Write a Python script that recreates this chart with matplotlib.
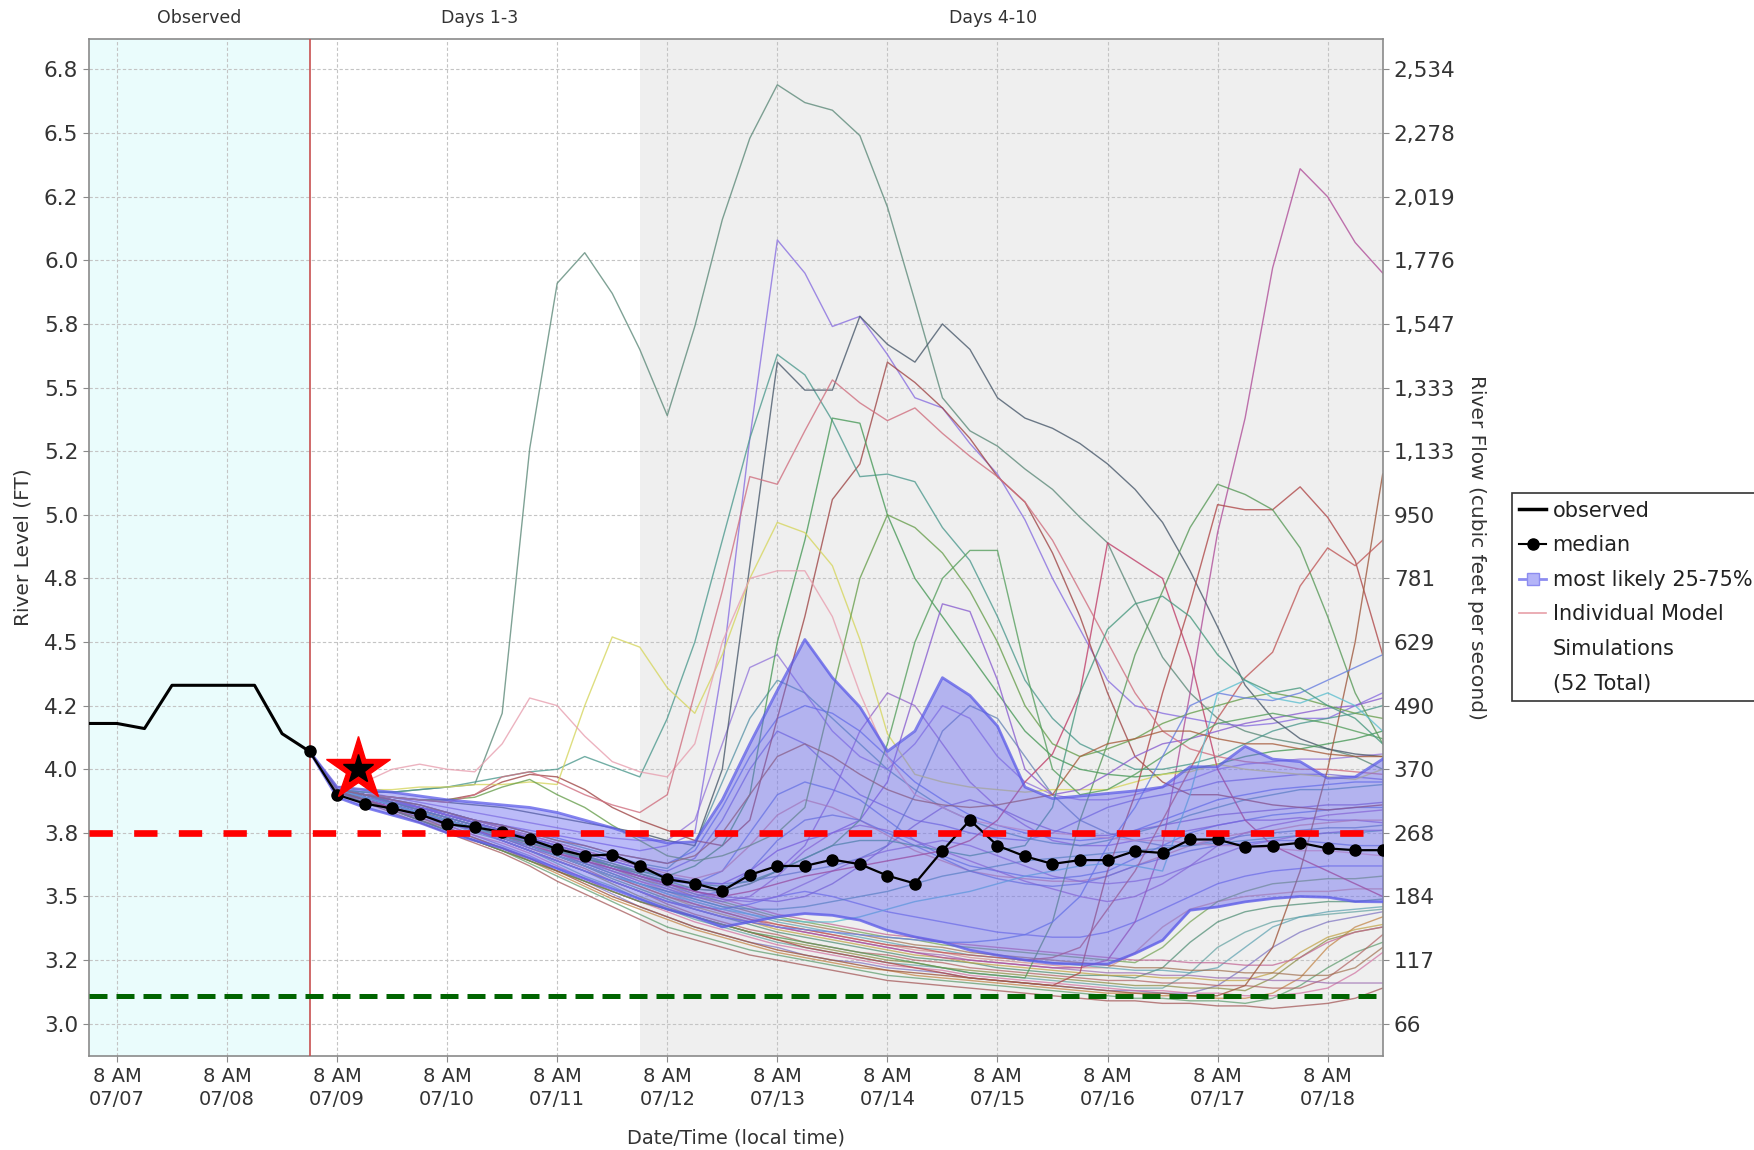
import matplotlib
matplotlib.use('Agg')
import matplotlib.pyplot as plt
from matplotlib.lines import Line2D

# hours counted from 07/07 00:00 local time
X_MIN, X_MAX = 2, 284
Y_MIN, Y_MAX = 2.873, 6.869
OBS_END = 50        # 07/09 2 AM
DAY3_END = 122      # 07/12 2 AM
FLOOD_LEVEL = 3.75
LOW_LEVEL = 3.11
STAR_TIME, STAR_LEVEL = 60.5, 4.0

obs_hours = [2, 8, 14, 20, 26, 32, 38, 44, 50]
obs_level = [4.18, 4.18, 4.16, 4.33, 4.33, 4.33, 4.33, 4.14, 4.07]

fc_hours = list(range(50, 285, 6))

median = [4.07, 3.90, 3.865, 3.846, 3.823, 3.784, 3.772, 3.754, 3.724, 3.687,
          3.66, 3.665, 3.621, 3.568, 3.551, 3.522, 3.585, 3.62, 3.62, 3.645,
          3.627, 3.582, 3.551, 3.68, 3.80, 3.70, 3.658, 3.628, 3.643, 3.643,
          3.679, 3.671, 3.724, 3.724, 3.695, 3.70, 3.711, 3.689, 3.682, 3.682]

band_hi = [4.07, 3.93, 3.92, 3.91, 3.895, 3.88, 3.87, 3.86, 3.85, 3.83,
           3.80, 3.77, 3.735, 3.71, 3.715, 3.88, 4.10, 4.31, 4.51, 4.36,
           4.245, 4.07, 4.15, 4.36, 4.29, 4.17, 3.93, 3.885, 3.895, 3.905,
           3.915, 3.93, 4.01, 4.01, 4.09, 4.04, 4.03, 3.965, 3.97, 4.04]

band_lo = [4.07, 3.89, 3.85, 3.82, 3.79, 3.75, 3.72, 3.69, 3.65, 3.61,
           3.57, 3.53, 3.49, 3.45, 3.42, 3.38, 3.40, 3.42, 3.433, 3.426,
           3.407, 3.367, 3.341, 3.321, 3.289, 3.269, 3.25, 3.237, 3.234, 3.234,
           3.276, 3.328, 3.446, 3.459, 3.479, 3.492, 3.50, 3.497, 3.48, 3.479]

# ensemble members that leave the band
sim_wild = [
    [4.07, 3.92, 3.91, 3.91, 3.92, 3.93, 3.94, 4.22, 5.26, 5.91,
     6.03, 5.87, 5.65, 5.39, 5.74, 6.16, 6.48, 6.69, 6.62, 6.59,
     6.49, 6.21, 5.84, 5.46, 5.33, 5.27, 5.18, 5.10, 4.99, 4.89,
     4.66, 4.44, 4.30, 4.20, 4.15, 4.12, 4.10, 4.08, 4.05, 4.00],
    [4.07, 3.92, 3.89, 3.87, 3.85, 3.82, 3.80, 3.78, 3.76, 3.74,
     3.72, 3.70, 3.68, 3.70, 3.75, 4.40, 5.30, 6.08, 5.95, 5.74,
     5.78, 5.63, 5.46, 5.42, 5.28, 5.16, 4.98, 4.75, 4.55, 4.35,
     4.25, 4.22, 4.20, 4.18, 4.17, 4.18, 4.20, 4.20, 4.25, 4.30],
    [4.07, 3.92, 3.88, 3.85, 3.82, 3.79, 3.76, 3.72, 3.68, 3.64,
     3.60, 3.56, 3.52, 3.48, 3.45, 3.42, 3.40, 3.38, 3.36, 3.34,
     3.32, 3.30, 3.28, 3.26, 3.25, 3.24, 3.23, 3.22, 3.22, 3.25,
     3.40, 3.70, 4.30, 4.93, 5.38, 5.97, 6.36, 6.25, 6.07, 5.95],
    [4.07, 3.92, 3.90, 3.89, 3.88, 3.88, 3.90, 3.95, 3.98, 3.97,
     3.92, 3.85, 3.80, 3.76, 3.72, 3.70, 3.80, 4.20, 4.60, 5.06,
     5.20, 5.60, 5.52, 5.42, 5.30, 5.15, 5.05, 4.85, 4.60, 4.30,
     4.05, 3.95, 3.90, 3.90, 3.88, 3.86, 3.85, 3.84, 3.85, 3.86],
    [4.07, 3.92, 3.91, 3.91, 3.92, 3.93, 3.95, 3.97, 3.99, 4.00,
     4.05, 4.01, 3.97, 4.20, 4.50, 4.90, 5.30, 5.63, 5.55, 5.37,
     5.15, 5.16, 5.13, 4.95, 4.82, 4.60, 4.35, 4.20, 4.10, 4.05,
     4.00, 4.00, 4.02, 4.05, 4.10, 4.15, 4.18, 4.20, 4.22, 4.25],
    [4.07, 3.92, 3.90, 3.89, 3.88, 3.87, 3.86, 3.85, 3.83, 3.81,
     3.79, 3.77, 3.75, 3.72, 3.70, 4.00, 4.80, 5.60, 5.49, 5.49,
     5.78, 5.67, 5.60, 5.75, 5.65, 5.46, 5.38, 5.34, 5.28, 5.20,
     5.10, 4.97, 4.78, 4.56, 4.33, 4.20, 4.12, 4.08, 4.06, 4.05],
    [4.07, 3.92, 3.89, 3.86, 3.83, 3.80, 3.77, 3.74, 3.71, 3.68,
     3.65, 3.62, 3.60, 3.58, 3.62, 3.70, 3.90, 4.50, 4.90, 5.38,
     5.36, 5.00, 4.75, 4.60, 4.45, 4.30, 4.15, 4.05, 4.00, 3.98,
     3.97, 3.98, 4.00, 4.02, 4.05, 4.07, 4.08, 4.10, 4.12, 4.15],
    [4.07, 3.93, 3.92, 3.92, 3.93, 3.93, 3.94, 3.94, 3.95, 3.94,
     4.25, 4.52, 4.48, 4.32, 4.22, 4.45, 4.75, 4.97, 4.93, 4.80,
     4.51, 4.14, 3.98, 3.95, 3.93, 3.92, 3.91, 3.92, 3.92, 3.92,
     3.95, 3.98, 3.99, 4.02, 4.00, 3.99, 3.98, 3.97, 3.96, 4.00],
    [4.07, 3.93, 3.95, 4.00, 4.02, 4.00, 3.99, 4.10, 4.28, 4.25,
     4.13, 4.03, 3.99, 3.97, 4.10, 4.50, 4.75, 4.78, 4.78, 4.60,
     4.30, 4.05, 3.90, 3.85, 3.80, 3.78, 3.76, 3.75, 3.74, 3.73,
     3.72, 3.72, 3.71, 3.70, 3.70, 3.69, 3.68, 3.68, 3.67, 3.66],
    [4.07, 3.92, 3.88, 3.85, 3.82, 3.79, 3.76, 3.73, 3.70, 3.67,
     3.64, 3.61, 3.58, 3.55, 3.52, 3.50, 3.52, 3.55, 3.58, 3.60,
     3.62, 3.64, 3.66, 3.68, 3.72, 3.80, 3.95, 4.06, 4.30, 4.89,
     4.82, 4.75, 4.44, 4.00, 3.80, 3.70, 3.65, 3.60, 3.55, 3.50],
    [4.07, 3.92, 3.88, 3.84, 3.80, 3.76, 3.72, 3.68, 3.64, 3.60,
     3.56, 3.52, 3.48, 3.45, 3.42, 3.39, 3.36, 3.33, 3.30, 3.28,
     3.26, 3.24, 3.22, 3.20, 3.18, 3.17, 3.16, 3.15, 3.20, 3.60,
     3.90, 4.30, 4.65, 5.04, 5.02, 5.02, 5.11, 4.99, 4.82, 4.45],
    [4.07, 3.92, 3.88, 3.84, 3.80, 3.76, 3.72, 3.68, 3.64, 3.60,
     3.56, 3.52, 3.48, 3.45, 3.42, 3.39, 3.36, 3.34, 3.32, 3.30,
     3.28, 3.26, 3.24, 3.22, 3.20, 3.19, 3.18, 3.40, 3.80, 4.10,
     4.45, 4.70, 4.95, 5.12, 5.08, 5.02, 4.87, 4.60, 4.30, 4.10],
    [4.07, 3.91, 3.88, 3.84, 3.81, 3.77, 3.73, 3.69, 3.65, 3.60,
     3.55, 3.50, 3.46, 3.42, 3.38, 3.35, 3.32, 3.29, 3.27, 3.25,
     3.23, 3.21, 3.20, 3.19, 3.18, 3.17, 3.16, 3.15, 3.14, 3.13,
     3.12, 3.12, 3.11, 3.11, 3.15, 3.30, 3.60, 4.00, 4.50, 5.16],
    [4.07, 3.92, 3.89, 3.86, 3.83, 3.80, 3.77, 3.73, 3.70, 3.66,
     3.62, 3.58, 3.54, 3.50, 3.47, 3.44, 3.41, 3.39, 3.37, 3.35,
     3.33, 3.31, 3.30, 3.28, 3.27, 3.26, 3.25, 3.26, 3.30, 3.45,
     3.60, 3.80, 4.00, 4.20, 4.36, 4.46, 4.72, 4.87, 4.80, 4.90],
    [4.07, 3.92, 3.90, 3.87, 3.85, 3.82, 3.79, 3.76, 3.73, 3.70,
     3.67, 3.64, 3.61, 3.58, 3.55, 3.55, 3.60, 3.68, 3.72, 3.75,
     3.80, 3.95, 4.30, 4.65, 4.62, 4.35, 4.00, 3.90, 3.92, 3.98,
     4.05, 4.10, 4.12, 4.15, 4.18, 4.20, 4.22, 4.24, 4.25, 4.28],
    [4.07, 3.92, 3.90, 3.89, 3.88, 3.88, 3.89, 3.93, 3.96, 3.90,
     3.85, 3.78, 3.72, 3.66, 3.64, 3.66, 3.70, 3.75, 3.85, 4.30,
     4.75, 5.00, 4.95, 4.85, 4.70, 4.50, 4.25, 4.10, 4.05, 4.08,
     4.12, 4.18, 4.22, 4.25, 4.28, 4.30, 4.28, 4.25, 4.22, 4.20],
    [4.07, 3.92, 3.90, 3.89, 3.88, 3.87, 3.90, 3.97, 3.99, 3.95,
     3.90, 3.86, 3.83, 3.90, 4.30, 4.70, 5.15, 5.12, 5.33, 5.53,
     5.44, 5.37, 5.42, 5.32, 5.23, 5.15, 5.05, 4.90, 4.70, 4.50,
     4.30, 4.15, 4.08, 4.05, 4.03, 4.02, 4.00, 4.00, 3.99, 3.98],
    [4.07, 3.92, 3.89, 3.86, 3.83, 3.80, 3.77, 3.74, 3.71, 3.68,
     3.65, 3.62, 3.59, 3.56, 3.53, 3.52, 3.55, 3.60, 3.65, 3.70,
     3.80, 4.10, 4.50, 4.75, 4.86, 4.86, 4.40, 4.00, 3.90, 3.92,
     3.98, 4.05, 4.12, 4.18, 4.20, 4.22, 4.20, 4.18, 4.15, 4.12],
    [4.07, 3.92, 3.89, 3.86, 3.83, 3.79, 3.76, 3.72, 3.68, 3.64,
     3.60, 3.56, 3.52, 3.48, 3.45, 3.42, 3.40, 3.38, 3.37, 3.36,
     3.35, 3.34, 3.33, 3.32, 3.32, 3.33, 3.35, 3.40, 3.50, 3.70,
     3.85, 4.05, 4.25, 4.30, 4.28, 4.27, 4.30, 4.35, 4.40, 4.45],
    [4.07, 3.92, 3.89, 3.86, 3.83, 3.80, 3.77, 3.73, 3.70, 3.66,
     3.62, 3.58, 3.55, 3.51, 3.48, 3.45, 3.43, 3.41, 3.40, 3.40,
     3.42, 3.45, 3.48, 3.50, 3.52, 3.55, 3.58, 3.60, 3.62, 3.63,
     3.62, 3.60, 3.90, 4.30, 4.35, 4.28, 4.26, 4.30, 4.25, 4.15],
    [4.07, 3.92, 3.90, 3.87, 3.84, 3.81, 3.78, 3.75, 3.72, 3.69,
     3.66, 3.63, 3.60, 3.57, 3.55, 3.54, 3.56, 3.60, 3.65, 3.70,
     3.72, 3.72, 3.70, 3.68, 3.66, 3.68, 3.70, 3.85, 4.30, 4.55,
     4.65, 4.68, 4.60, 4.45, 4.35, 4.30, 4.32, 4.25, 4.20, 4.10],
    [4.07, 3.92, 3.90, 3.88, 3.86, 3.83, 3.80, 3.78, 3.75, 3.72,
     3.70, 3.67, 3.65, 3.63, 3.66, 3.75, 3.90, 4.05, 4.10, 4.05,
     3.98, 3.92, 3.88, 3.86, 3.85, 3.86, 3.88, 3.90, 4.05, 4.10,
     4.12, 4.15, 4.15, 4.12, 4.10, 4.10, 4.08, 4.06, 4.05, 4.05],
]
wild_colors = ['#5f8b7b', '#8a70e0', '#b0509a', '#a04848', '#4f9a8f', '#4a5a6c',
               '#4a9a5a', '#d6d660', '#e8a0b0', '#c0406a', '#b04a4a', '#5a9a5a',
               '#a05a40', '#c05a5a', '#8a60d0', '#6aa050', '#d07080', '#58a060',
               '#6a80e0', '#60c0d0', '#4a9a80', '#a86040']

# members that stay inside the 25-75% band
sim_band = [
    [4.07, 3.92, 3.90, 3.88, 3.86, 3.83, 3.80, 3.77, 3.74, 3.71,
     3.68, 3.65, 3.62, 3.60, 3.65, 3.80, 4.00, 4.15, 4.10, 4.00,
     3.90, 3.85, 3.80, 3.78, 3.75, 3.73, 3.72, 3.75, 3.80, 3.85,
     3.88, 3.90, 3.92, 3.95, 3.96, 3.97, 3.98, 3.98, 3.97, 3.96],
    [4.07, 3.92, 3.90, 3.87, 3.85, 3.82, 3.79, 3.76, 3.72, 3.69,
     3.66, 3.62, 3.59, 3.56, 3.55, 3.60, 3.75, 3.90, 3.95, 3.92,
     3.88, 3.80, 3.72, 3.66, 3.62, 3.60, 3.58, 3.57, 3.58, 3.60,
     3.65, 3.70, 3.75, 3.78, 3.80, 3.82, 3.83, 3.84, 3.85, 3.85],
    [4.07, 3.92, 3.89, 3.87, 3.84, 3.81, 3.78, 3.75, 3.71, 3.68,
     3.64, 3.61, 3.58, 3.55, 3.53, 3.52, 3.55, 3.60, 3.70, 3.90,
     4.15, 4.30, 4.25, 4.10, 3.95, 3.85, 3.78, 3.72, 3.70, 3.70,
     3.72, 3.74, 3.76, 3.78, 3.80, 3.80, 3.81, 3.80, 3.80, 3.79],
    [4.07, 3.92, 3.90, 3.88, 3.86, 3.83, 3.80, 3.78, 3.75, 3.72,
     3.69, 3.66, 3.63, 3.61, 3.70, 3.95, 4.20, 4.35, 4.30, 4.20,
     4.10, 4.00, 3.92, 3.85, 3.80, 3.76, 3.73, 3.71, 3.70, 3.72,
     3.75, 3.78, 3.82, 3.85, 3.88, 3.90, 3.92, 3.92, 3.93, 3.94],
    [4.07, 3.91, 3.88, 3.85, 3.82, 3.79, 3.76, 3.72, 3.68, 3.64,
     3.60, 3.56, 3.52, 3.48, 3.46, 3.45, 3.47, 3.50, 3.52, 3.50,
     3.47, 3.44, 3.42, 3.40, 3.38, 3.36, 3.35, 3.34, 3.34, 3.36,
     3.40, 3.45, 3.50, 3.55, 3.58, 3.60, 3.61, 3.62, 3.62, 3.62],
    [4.07, 3.92, 3.89, 3.86, 3.83, 3.80, 3.77, 3.74, 3.70, 3.67,
     3.63, 3.60, 3.56, 3.53, 3.50, 3.48, 3.50, 3.58, 3.68, 3.75,
     3.78, 3.76, 3.72, 3.68, 3.64, 3.60, 3.56, 3.53, 3.50, 3.48,
     3.50, 3.55, 3.62, 3.70, 3.75, 3.78, 3.80, 3.82, 3.83, 3.84],
    [4.07, 3.92, 3.90, 3.87, 3.85, 3.82, 3.79, 3.76, 3.73, 3.70,
     3.67, 3.64, 3.61, 3.58, 3.56, 3.55, 3.56, 3.58, 3.60, 3.62,
     3.65, 3.70, 3.90, 4.15, 4.25, 4.20, 4.05, 3.90, 3.80, 3.75,
     3.72, 3.70, 3.70, 3.72, 3.74, 3.75, 3.76, 3.77, 3.77, 3.78],
    [4.07, 3.92, 3.90, 3.88, 3.85, 3.82, 3.80, 3.77, 3.74, 3.71,
     3.68, 3.65, 3.62, 3.59, 3.57, 3.60, 3.70, 3.82, 3.88, 3.85,
     3.80, 3.74, 3.68, 3.64, 3.60, 3.58, 3.57, 3.56, 3.56, 3.58,
     3.62, 3.66, 3.70, 3.73, 3.75, 3.76, 3.78, 3.79, 3.80, 3.80],
    [4.07, 3.91, 3.88, 3.86, 3.83, 3.80, 3.76, 3.73, 3.69, 3.66,
     3.62, 3.58, 3.55, 3.52, 3.50, 3.52, 3.60, 3.72, 3.80, 3.82,
     3.80, 3.75, 3.70, 3.65, 3.60, 3.57, 3.55, 3.54, 3.55, 3.58,
     3.62, 3.65, 3.68, 3.70, 3.71, 3.72, 3.72, 3.71, 3.70, 3.70],
    [4.07, 3.92, 3.91, 3.89, 3.87, 3.85, 3.83, 3.81, 3.79, 3.77,
     3.75, 3.73, 3.72, 3.72, 3.80, 4.10, 4.40, 4.45, 4.30, 4.15,
     4.05, 4.00, 4.10, 4.25, 4.20, 4.05, 3.95, 3.90, 3.88, 3.88,
     3.90, 3.93, 3.96, 4.00, 4.02, 4.03, 4.04, 4.04, 4.05, 4.06],
    [4.07, 3.92, 3.90, 3.87, 3.84, 3.81, 3.78, 3.75, 3.72, 3.68,
     3.65, 3.62, 3.58, 3.55, 3.52, 3.50, 3.49, 3.48, 3.50, 3.55,
     3.62, 3.70, 3.78, 3.85, 3.88, 3.85, 3.80, 3.76, 3.74, 3.74,
     3.76, 3.78, 3.80, 3.82, 3.83, 3.84, 3.85, 3.86, 3.86, 3.87],
    [4.07, 3.92, 3.89, 3.86, 3.83, 3.80, 3.77, 3.73, 3.70, 3.66,
     3.63, 3.59, 3.55, 3.52, 3.49, 3.46, 3.45, 3.45, 3.46, 3.48,
     3.50, 3.52, 3.55, 3.58, 3.60, 3.62, 3.64, 3.65, 3.66, 3.67,
     3.68, 3.69, 3.70, 3.71, 3.72, 3.73, 3.74, 3.75, 3.75, 3.76],
    [4.07, 3.92, 3.90, 3.88, 3.85, 3.83, 3.80, 3.78, 3.75, 3.73,
     3.70, 3.67, 3.65, 3.63, 3.68, 3.85, 4.05, 4.20, 4.25, 4.22,
     4.15, 4.05, 3.95, 3.88, 3.82, 3.78, 3.75, 3.73, 3.72, 3.73,
     3.76, 3.80, 3.84, 3.88, 3.90, 3.92, 3.93, 3.94, 3.95, 3.95],
    [4.07, 3.92, 3.89, 3.86, 3.84, 3.81, 3.78, 3.75, 3.71, 3.68,
     3.64, 3.61, 3.58, 3.54, 3.51, 3.49, 3.48, 3.50, 3.55, 3.60,
     3.65, 3.68, 3.70, 3.72, 3.70, 3.66, 3.62, 3.58, 3.56, 3.55,
     3.56, 3.58, 3.62, 3.66, 3.70, 3.72, 3.74, 3.75, 3.76, 3.76],
]
band_colors = ['#7060d0', '#5a70d8', '#8a5ac8', '#4a8aa0', '#6a6ae0', '#9a60c0', '#5a7ab0',
               '#d08090', '#6070d0', '#8a6ad8', '#7a58c0', '#4a90a0', '#5a6ae0', '#9068c8']

# members that recede below the band
sim_low = [
    [4.07, 3.91, 3.87, 3.83, 3.79, 3.75, 3.71, 3.67, 3.62, 3.56,
     3.51, 3.46, 3.41, 3.36, 3.33, 3.30, 3.27, 3.25, 3.23, 3.21,
     3.19, 3.17, 3.16, 3.15, 3.14, 3.13, 3.12, 3.11, 3.10, 3.09,
     3.09, 3.08, 3.08, 3.07, 3.07, 3.06, 3.07, 3.08, 3.10, 3.14],
    [4.07, 3.91, 3.87, 3.84, 3.80, 3.76, 3.72, 3.68, 3.63, 3.58,
     3.53, 3.48, 3.43, 3.38, 3.35, 3.32, 3.29, 3.27, 3.25, 3.23,
     3.21, 3.19, 3.18, 3.17, 3.16, 3.15, 3.14, 3.13, 3.12, 3.11,
     3.10, 3.10, 3.09, 3.09, 3.08, 3.10, 3.15, 3.22, 3.28, 3.32],
    [4.07, 3.91, 3.88, 3.84, 3.80, 3.77, 3.73, 3.69, 3.64, 3.59,
     3.54, 3.49, 3.45, 3.41, 3.37, 3.34, 3.31, 3.28, 3.26, 3.24,
     3.22, 3.21, 3.19, 3.18, 3.17, 3.16, 3.15, 3.14, 3.13, 3.12,
     3.12, 3.11, 3.11, 3.10, 3.10, 3.12, 3.18, 3.30, 3.38, 3.42],
    [4.07, 3.91, 3.88, 3.85, 3.81, 3.78, 3.74, 3.70, 3.66, 3.61,
     3.56, 3.51, 3.46, 3.42, 3.38, 3.35, 3.32, 3.30, 3.27, 3.25,
     3.24, 3.22, 3.21, 3.20, 3.18, 3.17, 3.16, 3.15, 3.14, 3.13,
     3.13, 3.12, 3.12, 3.15, 3.22, 3.30, 3.36, 3.40, 3.42, 3.44],
    [4.07, 3.92, 3.88, 3.85, 3.82, 3.78, 3.74, 3.71, 3.67, 3.62,
     3.57, 3.52, 3.48, 3.44, 3.40, 3.37, 3.34, 3.31, 3.29, 3.27,
     3.25, 3.23, 3.22, 3.21, 3.19, 3.18, 3.17, 3.16, 3.15, 3.14,
     3.13, 3.13, 3.12, 3.12, 3.11, 3.11, 3.12, 3.14, 3.20, 3.28],
    [4.07, 3.92, 3.89, 3.86, 3.82, 3.79, 3.75, 3.72, 3.68, 3.63,
     3.58, 3.54, 3.49, 3.45, 3.41, 3.38, 3.35, 3.32, 3.30, 3.28,
     3.26, 3.24, 3.23, 3.22, 3.20, 3.19, 3.18, 3.17, 3.16, 3.15,
     3.14, 3.14, 3.20, 3.30, 3.36, 3.40, 3.42, 3.43, 3.44, 3.45],
    [4.07, 3.92, 3.89, 3.86, 3.83, 3.79, 3.76, 3.72, 3.68, 3.64,
     3.60, 3.55, 3.50, 3.46, 3.42, 3.39, 3.36, 3.33, 3.31, 3.29,
     3.27, 3.25, 3.24, 3.22, 3.21, 3.20, 3.19, 3.18, 3.17, 3.16,
     3.15, 3.15, 3.14, 3.14, 3.13, 3.18, 3.26, 3.33, 3.36, 3.38],
    [4.07, 3.92, 3.89, 3.86, 3.83, 3.80, 3.76, 3.73, 3.69, 3.65,
     3.61, 3.56, 3.52, 3.47, 3.43, 3.40, 3.37, 3.35, 3.32, 3.30,
     3.28, 3.27, 3.25, 3.24, 3.22, 3.21, 3.20, 3.19, 3.18, 3.17,
     3.17, 3.16, 3.16, 3.15, 3.15, 3.14, 3.14, 3.18, 3.26, 3.35],
    [4.07, 3.92, 3.89, 3.86, 3.83, 3.80, 3.77, 3.73, 3.70, 3.66,
     3.62, 3.57, 3.53, 3.49, 3.45, 3.42, 3.39, 3.36, 3.34, 3.32,
     3.30, 3.28, 3.26, 3.25, 3.24, 3.22, 3.21, 3.20, 3.19, 3.19,
     3.18, 3.22, 3.32, 3.40, 3.44, 3.46, 3.47, 3.48, 3.48, 3.49],
    [4.07, 3.92, 3.89, 3.87, 3.84, 3.80, 3.77, 3.74, 3.70, 3.66,
     3.62, 3.58, 3.54, 3.50, 3.46, 3.43, 3.40, 3.37, 3.35, 3.33,
     3.31, 3.29, 3.27, 3.26, 3.24, 3.23, 3.22, 3.21, 3.20, 3.19,
     3.19, 3.18, 3.18, 3.17, 3.17, 3.20, 3.28, 3.34, 3.37, 3.39],
    [4.07, 3.92, 3.89, 3.87, 3.84, 3.81, 3.78, 3.74, 3.71, 3.67,
     3.63, 3.59, 3.55, 3.51, 3.47, 3.44, 3.41, 3.38, 3.36, 3.34,
     3.32, 3.30, 3.28, 3.27, 3.25, 3.24, 3.23, 3.22, 3.21, 3.20,
     3.20, 3.19, 3.19, 3.18, 3.18, 3.17, 3.17, 3.16, 3.16, 3.16],
    [4.07, 3.92, 3.90, 3.87, 3.84, 3.81, 3.78, 3.75, 3.71, 3.67,
     3.64, 3.60, 3.56, 3.52, 3.48, 3.45, 3.42, 3.39, 3.37, 3.35,
     3.33, 3.31, 3.29, 3.28, 3.26, 3.25, 3.24, 3.23, 3.22, 3.22,
     3.28, 3.38, 3.45, 3.48, 3.50, 3.51, 3.52, 3.52, 3.53, 3.53],
    [4.07, 3.92, 3.90, 3.87, 3.85, 3.82, 3.79, 3.75, 3.72, 3.68,
     3.64, 3.60, 3.57, 3.53, 3.49, 3.46, 3.43, 3.40, 3.38, 3.36,
     3.34, 3.32, 3.30, 3.29, 3.27, 3.26, 3.25, 3.24, 3.23, 3.22,
     3.21, 3.21, 3.20, 3.22, 3.30, 3.38, 3.42, 3.44, 3.45, 3.46],
    [4.07, 3.92, 3.90, 3.88, 3.85, 3.82, 3.79, 3.76, 3.72, 3.69,
     3.65, 3.61, 3.57, 3.54, 3.50, 3.47, 3.44, 3.41, 3.39, 3.37,
     3.35, 3.33, 3.31, 3.30, 3.28, 3.27, 3.26, 3.25, 3.24, 3.23,
     3.22, 3.22, 3.21, 3.21, 3.20, 3.20, 3.19, 3.19, 3.22, 3.30],
    [4.07, 3.92, 3.90, 3.88, 3.85, 3.82, 3.79, 3.76, 3.73, 3.69,
     3.66, 3.62, 3.58, 3.55, 3.51, 3.48, 3.45, 3.42, 3.40, 3.38,
     3.36, 3.34, 3.33, 3.31, 3.30, 3.29, 3.28, 3.27, 3.26, 3.25,
     3.24, 3.30, 3.40, 3.48, 3.52, 3.55, 3.56, 3.57, 3.57, 3.58],
    [4.07, 3.92, 3.90, 3.88, 3.85, 3.83, 3.80, 3.77, 3.73, 3.70,
     3.66, 3.63, 3.59, 3.55, 3.52, 3.49, 3.46, 3.43, 3.41, 3.39,
     3.37, 3.35, 3.34, 3.32, 3.31, 3.30, 3.29, 3.28, 3.27, 3.26,
     3.25, 3.25, 3.24, 3.24, 3.23, 3.23, 3.26, 3.32, 3.36, 3.38],
]
low_colors = ['#a05050', '#5a9a6a', '#c08040', '#7a70c0', '#d070a0', '#60a0a0', '#8a8a40',
              '#b06060', '#4a8a70', '#c0a040', '#9a6ab0', '#d08a8a', '#5aa0b0', '#a07050',
              '#70a050', '#c06090']

y_ticks = [6.75, 6.5, 6.25, 6.0, 5.75, 5.5, 5.25, 5.0, 4.75, 4.5, 4.25, 4.0, 3.75, 3.5, 3.25, 3.0]
y_labels = ['6.8', '6.5', '6.2', '6.0', '5.8', '5.5', '5.2', '5.0',
            '4.8', '4.5', '4.2', '4.0', '3.8', '3.5', '3.2', '3.0']
flow_labels = ['2,534', '2,278', '2,019', '1,776', '1,547', '1,333', '1,133', '950',
               '781', '629', '490', '370', '268', '184', '117', '66']
x_ticks = [8, 32, 56, 80, 104, 128, 152, 176, 200, 224, 248, 272]
x_labels = ['8 AM\n07/07', '8 AM\n07/08', '8 AM\n07/09', '8 AM\n07/10', '8 AM\n07/11',
            '8 AM\n07/12', '8 AM\n07/13', '8 AM\n07/14', '8 AM\n07/15', '8 AM\n07/16',
            '8 AM\n07/17', '8 AM\n07/18']
period_names = ['Observed', 'Days 1-3', 'Days 4-10']
period_x = [26, 87, 199]

TXT = '#333333'
EDGE = '#8a8a8a'

fig = plt.figure(figsize=(17.54, 11.5), dpi=100)
ax = fig.add_axes([0.051, 0.0817, 0.7373, 0.8842])
ax.set_xlim(X_MIN, X_MAX)
ax.set_ylim(Y_MIN, Y_MAX)

ax.axvspan(X_MIN, OBS_END, color='#eafcfc', zorder=0, lw=0)
ax.axvspan(DAY3_END, X_MAX, color='#efefef', zorder=0, lw=0)
ax.set_axisbelow(True)
ax.grid(True, color='#c4c4c4', linestyle=(0, (3, 2)), linewidth=0.8)

for vals, col in zip(sim_low, low_colors):
    ax.plot(fc_hours, vals, color=col, lw=1.0, alpha=0.7, zorder=2)
for vals, col in zip(sim_band, band_colors):
    ax.plot(fc_hours, vals, color=col, lw=1.0, alpha=0.7, zorder=2)
for vals, col in zip(sim_wild, wild_colors):
    ax.plot(fc_hours, vals, color=col, lw=1.0, alpha=0.8, zorder=2)

ax.fill_between(fc_hours, band_lo, band_hi, color='#6a6af0', alpha=0.45, lw=0, zorder=3)
ax.plot(fc_hours, band_hi, color='#5a5ae8', lw=2.0, alpha=0.75, zorder=3.5)
ax.plot(fc_hours, band_lo, color='#5a5ae8', lw=2.0, alpha=0.75, zorder=3.5)

ax.axvline(OBS_END, color='#c85050', lw=1.2, zorder=4)

ax.plot(obs_hours, obs_level, color='black', lw=2.2, zorder=5)
ax.plot(fc_hours, median, color='black', lw=1.6, marker='o', ms=8, zorder=5)

ax.axhline(FLOOD_LEVEL, color='#ff0000', lw=4.8, dashes=(3.5, 3.2), zorder=6)
ax.axhline(LOW_LEVEL, color='#006400', lw=3.6, dashes=(3.6, 1.8), zorder=6)

ax.plot(STAR_TIME, STAR_LEVEL, marker='*', ms=48, color='#ff0000', mec='#ff0000', zorder=7)
ax.plot(STAR_TIME, STAR_LEVEL, marker='*', ms=22, color='black', zorder=8)

ax.set_yticks(y_ticks)
ax.set_yticklabels(y_labels, fontsize=15.5, color=TXT)
ax.set_xticks(x_ticks)
ax.set_xticklabels(x_labels, fontsize=14, color=TXT, linespacing=1.25)
ax.tick_params(axis='both', direction='out', length=4, color=EDGE, pad=4)
for sp in ax.spines.values():
    sp.set_color(EDGE)
    sp.set_linewidth(1.2)

ax.set_ylabel('River Level (FT)', fontsize=14.5, color=TXT)
ax.yaxis.set_label_coords(-0.044, 0.5)
ax.set_xlabel('Date/Time (local time)', fontsize=14, color=TXT)
ax.xaxis.set_label_coords(0.5, -0.071)

ax2 = ax.twinx()
ax2.set_ylim(Y_MIN, Y_MAX)
ax2.set_yticks(y_ticks)
ax2.set_yticklabels(flow_labels, fontsize=15.5, color=TXT)
ax2.tick_params(axis='y', direction='out', length=4, color=EDGE, pad=4)
for sp in ax2.spines.values():
    sp.set_visible(False)
ax2.set_ylabel('River Flow (cubic feet per second)', fontsize=14.5, color=TXT, rotation=270)
ax2.yaxis.set_label_coords(1.080, 0.5)

for name, xp in zip(period_names, period_x):
    ax.text(xp, 1.021, name, transform=ax.get_xaxis_transform(), ha='center', va='center',
            fontsize=12.5, color=TXT)

handles = [
    Line2D([], [], color='black', lw=2.5),
    Line2D([], [], color='black', lw=1.5, marker='o', ms=8),
    Line2D([], [], color='#8c8cf0', lw=2, marker='s', ms=8, mfc='#b4b4f8', mec='#8c8cf0'),
    Line2D([], [], color='#e8a0a8', lw=1.2),
    Line2D([], [], color='none'),
    Line2D([], [], color='none'),
]
labels = ['observed', 'median', 'most likely 25-75%', 'Individual Model', 'Simulations', '(52 Total)']
leg = fig.legend(handles, labels, loc='upper left', bbox_to_anchor=(0.862, 0.571),
                 frameon=True, fancybox=False, edgecolor='black', fontsize=15,
                 borderaxespad=0, handlelength=1.3, handletextpad=0.3,
                 labelspacing=0.7, borderpad=0.35)
leg.get_frame().set_linewidth(1.2)
for t in leg.get_texts():
    t.set_color('#222222')

fig.savefig('out.png', dpi=100)
